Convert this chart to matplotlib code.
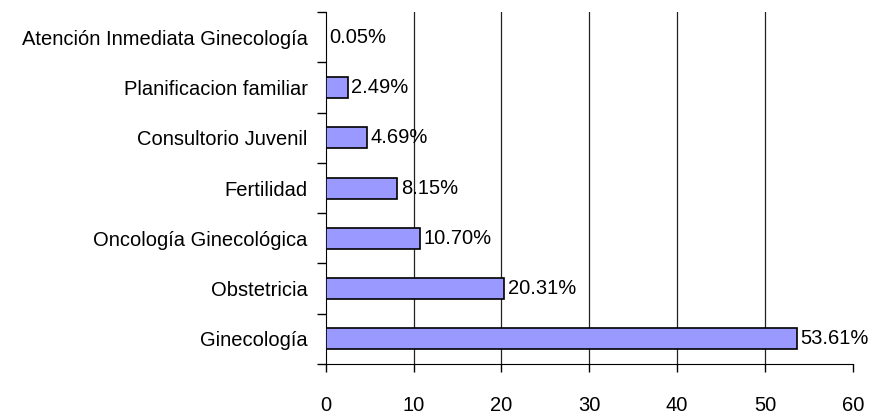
import matplotlib.pyplot as plt
import numpy as np

plt.rcParams['font.family'] = ['Liberation Sans', 'DejaVu Sans']

# categories bottom -> top
categorias = ["Ginecología", "Obstetricia", "Oncología Ginecológica", "Fertilidad",
              "Consultorio Juvenil", "Planificacion familiar",
              "Atención Inmediata Ginecología"]
porcentajes = [53.61, 20.31, 10.70, 8.15, 4.69, 2.49, 0.05]
etiquetas = ["53.61%", "20.31%", "10.70%", "8.15%", "4.69%", "2.49%", "0.05%"]
xticks = [0, 10, 20, 30, 40, 50, 60]

fs = 14.5

fig = plt.figure(figsize=(8.73, 4.17), dpi=100)
ax = fig.add_axes([0.373, 0.127, 0.604, 0.844])

y = np.arange(len(categorias))
ax.barh(y, porcentajes, height=0.42, color="#9999FF", edgecolor="black",
        linewidth=1.2, zorder=3)
for yi, v, t in zip(y, porcentajes, etiquetas):
    ax.text(v + 0.4, yi, t, va="center", ha="left", fontsize=fs, zorder=4)

ax.set_xlim(0, 60)
ax.set_ylim(-0.5, len(categorias) - 0.5)
ax.set_xticks(xticks)
ax.set_xticklabels([str(v) for v in xticks], fontsize=fs)
ax.tick_params(axis="x", direction="out", length=6, width=1, pad=17)

ax.set_yticks(np.arange(len(categorias) + 1) - 0.5)
ax.set_yticklabels([])
ax.set_yticks(y, minor=True)
ax.set_yticklabels(categorias, minor=True, fontsize=fs)
ax.tick_params(axis="y", which="major", direction="out", length=6.5, width=1)
ax.tick_params(axis="y", which="minor", length=0, pad=13)

for gx in xticks[1:-1]:
    ax.axvline(gx, color="#222222", linewidth=0.9, zorder=1)

ax.spines["top"].set_visible(False)
ax.spines["right"].set_visible(False)

fig.savefig("out.png", dpi=100)
